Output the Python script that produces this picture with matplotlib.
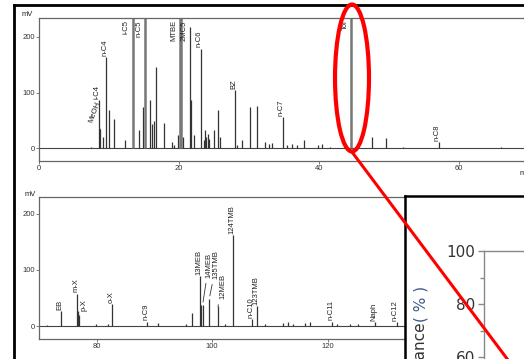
import numpy as np
import matplotlib
matplotlib.use("Agg")
import matplotlib.pyplot as plt
from matplotlib.patches import Ellipse
from matplotlib.lines import Line2D

# --- peaks (min, mV) ---
top_rt = [7.4, 8.5, 8.75, 9.2, 9.6, 10.0, 10.7, 12.3, 13.4, 14.3, 14.9, 15.2, 15.8, 16.1,
          16.4, 16.7, 17.8, 19.0, 19.3, 19.8, 20.1, 20.35, 20.6, 21.6, 21.75, 22.1, 23.1,
          23.5, 23.7, 23.9, 24.1, 24.3, 25.0, 25.5, 25.9, 28.0, 28.3, 29.0, 30.2, 31.2,
          32.3, 32.8, 33.3, 34.8, 35.4, 36.1, 36.8, 37.8, 39.9, 40.4, 41.6, 44.6, 47.6,
          49.5, 52.0, 57.1, 66.0]
top_h = [2, 86, 35, 20, 164, 68, 53, 15, 260, 33, 74, 260, 87, 44,
         49, 146, 45, 11, 6, 23, 260, 260, 20, 218, 86, 23, 179,
         15, 33, 20, 25, 17, 32, 69, 20, 105, 5, 14, 74, 76,
         11, 8, 10, 56, 6, 7, 6, 14, 6, 7, 3, 260, 20,
         19, 3, 11, 2]
top_lbl = ["i-C4", "n-C4", "i-C5", "n-C5", "MTBE", "2MC5", "n-C6", "BZ", "n-C7", "Tol", "n-C8"]
top_lbl_rt = [8.5, 9.6, 13.4, 15.2, 20.1, 21.6, 23.1, 28.0, 34.8, 44.6, 57.1]

bot_rt = [71.5, 73.9, 76.6, 76.8, 77.0, 79.9, 81.9, 82.7, 88.7, 90.6, 95.5, 96.5, 97.95,
          98.15, 98.35, 99.5, 101.0, 102.2, 103.6, 106.9, 107.8, 109.2, 112.3, 113.2, 114.0,
          116.1, 116.9, 120.7, 121.6, 123.9, 125.3, 128.2, 131.9]
bot_h = [2, 26, 58, 26, 20, 3, 3, 40, 8, 5, 3, 24, 89,
         38, 38, 49, 35, 3, 162, 12, 35, 4, 6, 7, 4,
         6, 8, 8, 4, 3, 3, 7, 7]
bot_lbl = ["EB", "m-X", "o-X", "n-C9", "13MEB", "124TMB", "n-C10", "123TMB", "n-C11", "Naph", "n-C12"]
bot_lbl_rt = [73.9, 76.6, 82.7, 88.7, 97.95, 103.6, 106.9, 107.8, 120.7, 128.2, 131.9]

W, H = 524, 359
LBL = dict(fontsize=5.5, family="Liberation Sans", color="#222")


def box(x0, y0, x1, y1):
    return [x0 / W, 1 - y1 / H, (x1 - x0) / W, (y1 - y0) / H]


def chrom(ax, rt, h, xlim, ylim, xt, yt):
    ax.set_xlim(*xlim)
    ax.set_ylim(*ylim)
    ax.plot(xlim, [0, 0], color="#444", lw=0.8)
    h = np.array(h, dtype=float)
    tall = h > ylim[1]
    ax.vlines(rt, 0, h, colors=np.where(tall, "#777", "#333"),
              linewidths=np.where(tall, 1.8, 0.9))
    ax.spines["right"].set_visible(False)
    for s in ["left", "top", "bottom"]:
        ax.spines[s].set_color("#666")
        ax.spines[s].set_linewidth(0.9)
    ax.set_xticks(xt)
    ax.set_yticks(yt)
    ax.tick_params(length=2, width=0.6, pad=1, labelsize=5.5, colors="#666",
                   labelcolor="#333")
    for t in ax.get_xticklabels() + ax.get_yticklabels():
        t.set_family("Liberation Sans")


def put_labels(ax, names, pos, rt, h, ytop):
    for n, x in zip(names, pos):
        hv = h[int(np.argmin(np.abs(np.array(rt) - x)))]
        if hv >= 200:
            ax.text(x - 0.9 * (ax.get_xlim()[1] - ax.get_xlim()[0]) / 70, ytop - 4, n,
                    rotation=90, ha="center", va="top", **LBL)
        else:
            ax.text(x - 0.2, hv + 2, n, rotation=90, ha="center", va="bottom", **LBL)


fig = plt.figure(figsize=(W / 100, H / 100), dpi=100)

# top chromatogram
ax1 = fig.add_axes(box(39, 18, 529, 161))
chrom(ax1, top_rt, top_h, (0, 70), (-23, 234), [0, 20, 40, 60], [0, 100, 200])
put_labels(ax1, top_lbl, top_lbl_rt, top_rt, top_h, 234)
ax1.annotate("MeOH", xy=(8.8, 34), xytext=(7.9, 44), rotation=70, ha="center",
             va="bottom", arrowprops=dict(arrowstyle="-", lw=0.6, color="#333"), **LBL)
fig.text(27 / W, 1 - 15 / H, "mV", ha="center", va="center", **LBL)
fig.text(520 / W, 1 - 173 / H, "min", ha="left", va="center", **LBL)

# bottom chromatogram
ax2 = fig.add_axes(box(39, 197, 529, 339))
chrom(ax2, bot_rt, bot_h, (70.05, 154.8), (-23, 230), [80, 100, 120], [0, 100, 200])
put_labels(ax2, bot_lbl, bot_lbl_rt, bot_rt, bot_h, 230)
ax2.text(77.9, 27, "p-X", rotation=90, ha="center", va="bottom", **LBL)
for n, peak, lab in [("14MEB", (98.35, 38), (99.4, 86)),
                     ("135TMB", (99.5, 49), (100.7, 84)),
                     ("12MEB", (101.0, 35), (101.8, 48))]:
    ax2.annotate(n, xy=peak, xytext=lab, rotation=90, ha="center", va="bottom",
                 arrowprops=dict(arrowstyle="-", lw=0.6, color="#333"), **LBL)
fig.text(30 / W, 1 - 195 / H, "mV", ha="center", va="center", **LBL)

# outer frame of the screenshot
fig.add_artist(Line2D([14 / W, 14 / W], [0, 1 - 5 / H], color="black", lw=2))
fig.add_artist(Line2D([14 / W, 1], [1 - 5 / H, 1 - 5 / H], color="black", lw=2))

# inset panel (transmittance plot, cut off)
frame = fig.add_axes(box(405, 196, 580, 420))
frame.set_zorder(5)
frame.set_xticks([])
frame.set_yticks([])
for s in frame.spines.values():
    s.set_linewidth(1.8)
    s.set_color("black")

ax3 = fig.add_axes(box(484, 251, 640, 410))
ax3.set_zorder(6)
ax3.patch.set_alpha(0)
ax3.set_ylim(40, 100)
ax3.set_xticks([])
ax3.set_yticks([60, 80, 100])
ax3.set_yticks([50, 70, 90], minor=True)
for s in ["right", "bottom"]:
    ax3.spines[s].set_visible(False)
for s in ["left", "top"]:
    ax3.spines[s].set_color("#888")
    ax3.spines[s].set_linewidth(1.0)
ax3.tick_params(axis="y", which="major", length=4.5, width=1, pad=1.5, colors="#888",
                labelcolor="#333", labelsize=11)
ax3.tick_params(axis="y", which="minor", length=3, width=1, colors="#888")
fig.text(425 / W, 1 - 286 / H, "( % )", rotation=90, rotation_mode="anchor",
         ha="right", va="baseline", fontsize=11, color="#3d5a8a", zorder=7)
fig.text(425 / W, 1 - 322 / H, "Transmittance", rotation=90, rotation_mode="anchor",
         ha="right", va="baseline", fontsize=11, color="#333", zorder=7)

# red highlight of the toluene peak and pointer
fig.add_artist(Ellipse((352 / W, 1 - 78 / H), 34 / W, 147 / H, fill=False,
                       edgecolor="red", lw=3, zorder=20))
fig.add_artist(Line2D([352 / W, 520 / W], [1 - 152 / H, 1 - 376 / H], color="red",
                      lw=2.2, zorder=20))

fig.savefig("out.png", dpi=100)
